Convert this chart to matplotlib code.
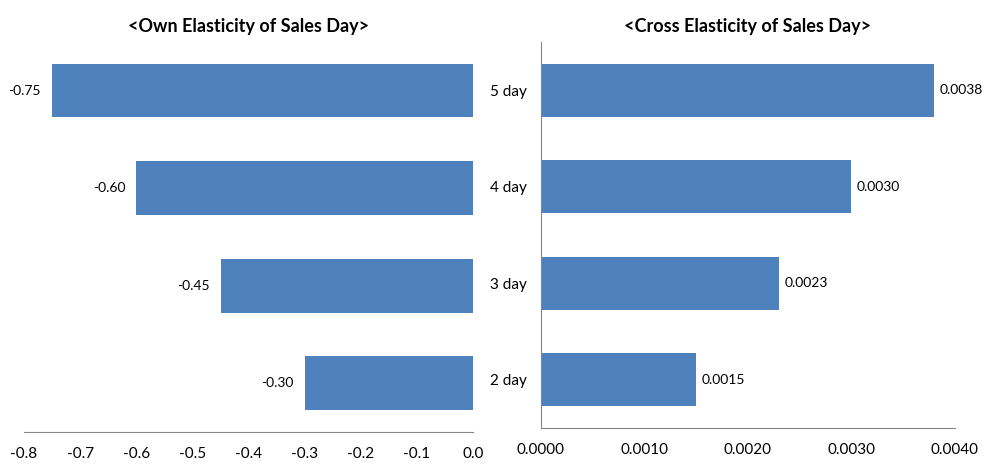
import matplotlib.pyplot as plt

plt.rcParams['font.family'] = ['Lato', 'DejaVu Sans']

days = ['5 day', '4 day', '3 day', '2 day']
own_elasticity = [-0.75, -0.60, -0.45, -0.30]
cross_elasticity = [0.0038, 0.0030, 0.0023, 0.0015]

own_ticks = [-0.8, -0.7, -0.6, -0.5, -0.4, -0.3, -0.2, -0.1, 0.0]
cross_ticks = [0.0, 0.001, 0.002, 0.003, 0.004]

bar_color = '#4F81BD'
axis_color = '#868686'

fig = plt.figure(figsize=(9.85, 4.65), dpi=100)
ax1 = fig.add_axes([0.0244, 0.071, 0.456, 0.839])
ax2 = fig.add_axes([0.5492, 0.0796, 0.4203, 0.830])

pos = list(range(len(days)))

# left: own elasticity, bars grow leftwards from zero
ax1.barh(pos, own_elasticity, height=0.55, color=bar_color)
ax1.set_xlim(-0.8, 0.0)
ax1.set_ylim(3.5, -0.5)
ax1.set_xticks(own_ticks)
ax1.set_xticklabels([f'{t:.1f}' for t in own_ticks])
ax1.set_yticks([])
for p, v in zip(pos, own_elasticity):
    ax1.annotate(f'{v:.2f}', (v, p), xytext=(-8, 0), textcoords='offset points',
                 ha='right', va='center', fontsize=10)
ax1.set_title('<Own Elasticity of Sales Day>', fontsize=13, fontweight='bold', pad=7)

# right: cross elasticity
ax2.barh(pos, cross_elasticity, height=0.55, color=bar_color)
ax2.set_xlim(0, 0.004)
ax2.set_ylim(3.5, -0.5)
ax2.set_xticks(cross_ticks)
ax2.set_xticklabels([f'{t:.4f}' for t in cross_ticks])
ax2.set_yticks(pos)
ax2.set_yticklabels(days)
for p, v in zip(pos, cross_elasticity):
    ax2.annotate(f'{v:.4f}', (v, p), xytext=(4, 0), textcoords='offset points',
                 ha='left', va='center', fontsize=10)
ax2.set_title('<Cross Elasticity of Sales Day>', fontsize=13, fontweight='bold', pad=7)

for ax in (ax1, ax2):
    for side in ('top', 'right'):
        ax.spines[side].set_visible(False)
    ax.spines['bottom'].set_color(axis_color)
    ax.spines['left'].set_color(axis_color)
    ax.tick_params(length=0, labelsize=11, pad=11)
ax1.spines['left'].set_visible(False)
ax2.tick_params(axis='y', pad=10)

fig.savefig('out.png', dpi=100)
